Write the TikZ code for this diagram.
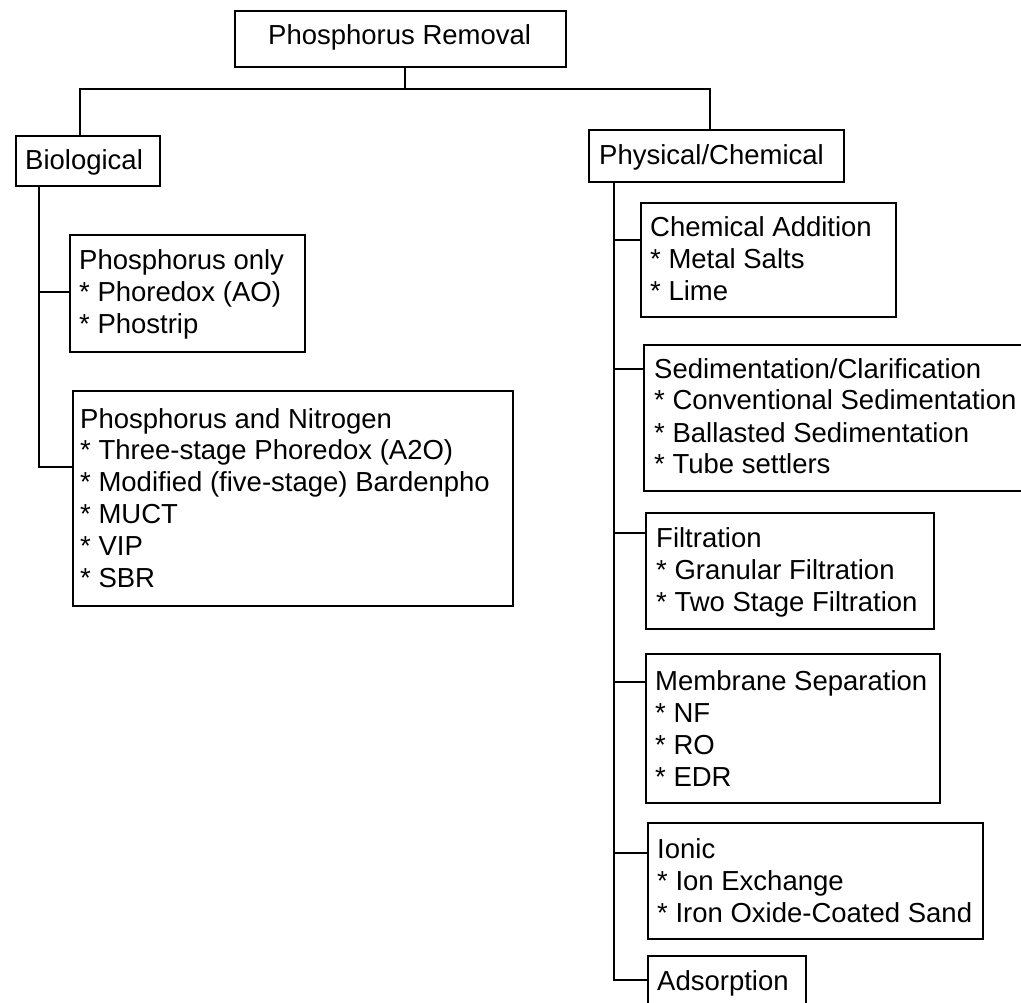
\documentclass[tikz,border=0pt]{standalone}
\usepackage{fontspec}
\setmainfont{Liberation Sans}
\begin{document}
\begin{tikzpicture}[x=1pt,y=-1pt,
  box/.style={draw, line width=2pt, inner sep=0pt, anchor=north west},
  txt/.style={anchor=base west, inner sep=0pt, font=\fontsize{27.5}{32}\selectfont},
  link/.style={line width=2pt}]
\useasboundingbox (0,0) rectangle (1021,1003);
\clip (0,0) rectangle (1021,1003);
\newcommand{\lines}[1]{\begin{tabular}[t]{@{}l@{}}#1\end{tabular}}
\newcommand{\itm}{\relax{*}~}
% boxes
\node[box, minimum width=331pt, minimum height=56pt] (top) at (234,10) {};
\node[box, minimum width=144pt, minimum height=50pt] (bio) at (15,135) {};
\node[box, minimum width=255pt, minimum height=52pt] (phys) at (588,129) {};
\node[box, minimum width=235pt, minimum height=117pt] (ponly) at (69,234) {};
\node[box, minimum width=440pt, minimum height=215pt] (pn) at (72,390) {};
\node[box, minimum width=255pt, minimum height=114pt] (chem) at (640,202) {};
\node[box, minimum width=387pt, minimum height=146pt] (sed) at (643,344) {};
\node[box, minimum width=288pt, minimum height=116pt] (filt) at (645,512) {};
\node[box, minimum width=294pt, minimum height=149pt] (memb) at (645,653) {};
\node[box, minimum width=335pt, minimum height=116pt] (ionic) at (647,822) {};
\node[box, minimum width=158pt, minimum height=57pt] (ads) at (647,955) {};
% texts
\node[txt] (topT) at (268,45) {Phosphorus Removal};
\node[txt] (bioT) at (25,170) {Biological};
\node[txt] (physT) at (599,165) {Physical/Chemical};
\node[txt] (ponlyT) at (79,270) {\lines{Phosphorus only\\\itm Phoredox (AO)\\\itm Phostrip}};
\node[txt] (pnT) at (80,428) {\lines{Phosphorus and Nitrogen\\\itm Three-stage Phoredox (A2O)\\\itm Modified (five-stage) Bardenpho\\\itm MUCT\\\itm VIP\\\itm SBR}};
\node[txt] (chemT) at (650,237) {\lines{Chemical Addition\\\itm Metal Salts\\\itm Lime}};
\node[txt] (sedT) at (654,378) {\lines{Sedimentation/Clarification\\\itm Conventional Sedimentation\\\itm Ballasted Sedimentation\\\itm Tube settlers}};
\node[txt] (filtT) at (656,547) {\lines{Filtration\\\itm Granular Filtration\\\itm Two Stage Filtration}};
\node[txt] (membT) at (655,690) {\lines{Membrane Separation\\\itm NF\\\itm RO\\\itm EDR}};
\node[txt] (ionicT) at (657,858) {\lines{Ionic\\\itm Ion Exchange\\\itm Iron Oxide-Coated Sand}};
\node[txt] (adsT) at (657,990) {Adsorption};
% junction coordinates
\coordinate (j1) at (405,89);
\coordinate (bL) at (80,89);
\coordinate (pR) at (710,89);
\coordinate (bsp) at (39,467);
\coordinate (bpo) at (39,292);
\coordinate (rsp) at (614,980);
\coordinate (rc1) at (614,240);
\coordinate (rc2) at (614,369);
\coordinate (rc3) at (614,533);
\coordinate (rc4) at (614,682);
\coordinate (rc5) at (614,853);
% connectors
\draw[link] (j1 |- top.south) -- (j1);
\draw[link] (bL |- bio.north) -- (bL) -- (pR) -- (pR |- phys.north);
\draw[link] (bsp |- bio.south) -- (bsp) -- (bsp -| pn.west);
\draw[link] (bpo) -- (bpo -| ponly.west);
\draw[link] (rsp |- phys.south) -- (rsp) -- (rsp -| ads.west);
\draw[link] (rc1) -- (rc1 -| chem.west);
\draw[link] (rc2) -- (rc2 -| sed.west);
\draw[link] (rc3) -- (rc3 -| filt.west);
\draw[link] (rc4) -- (rc4 -| memb.west);
\draw[link] (rc5) -- (rc5 -| ionic.west);
\end{tikzpicture}
\end{document}
